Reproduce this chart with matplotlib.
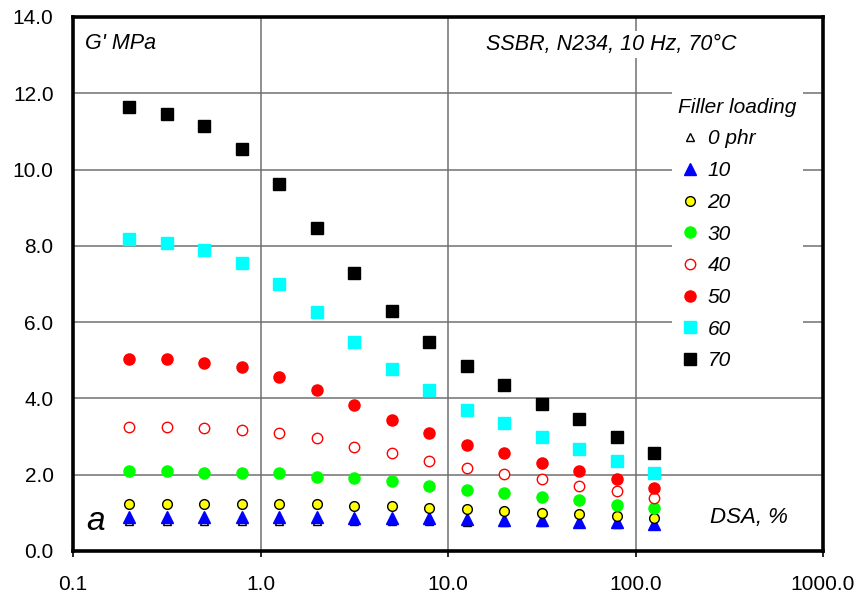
import matplotlib.pyplot as plt
from matplotlib.ticker import FixedLocator, FixedFormatter, NullLocator

plt.rcParams['font.family'] = ['Liberation Sans', 'DejaVu Sans']

# strain amplitude, %
dsa = [0.2, 0.317, 0.502, 0.796, 1.26, 2.0, 3.17, 5.02, 7.96, 12.6, 20.0, 31.7, 50.2, 79.6, 126.0]

# G' (MPa) for each filler loading
g_0 = [0.78, 0.78, 0.78, 0.78, 0.78, 0.78, 0.78, 0.78, 0.78, 0.77, 0.76, 0.75, 0.73, 0.71, 0.68]
g_10 = [0.88, 0.88, 0.88, 0.88, 0.88, 0.88, 0.87, 0.87, 0.86, 0.84, 0.82, 0.80, 0.77, 0.75, 0.72]
g_20 = [1.23, 1.23, 1.23, 1.23, 1.23, 1.23, 1.18, 1.18, 1.13, 1.10, 1.05, 1.00, 0.97, 0.92, 0.87]
g_30 = [2.10, 2.10, 2.04, 2.04, 2.04, 1.94, 1.91, 1.83, 1.70, 1.60, 1.52, 1.42, 1.34, 1.21, 1.13]
g_40 = [3.25, 3.25, 3.22, 3.17, 3.09, 2.96, 2.73, 2.57, 2.36, 2.18, 2.02, 1.89, 1.70, 1.57, 1.40]
g_50 = [5.03, 5.03, 4.93, 4.82, 4.56, 4.22, 3.83, 3.43, 3.09, 2.78, 2.57, 2.31, 2.10, 1.89, 1.65]
g_60 = [8.18, 8.08, 7.90, 7.55, 7.00, 6.27, 5.48, 4.77, 4.22, 3.70, 3.36, 2.99, 2.67, 2.36, 2.05]
g_70 = [11.64, 11.46, 11.14, 10.54, 9.62, 8.47, 7.29, 6.29, 5.48, 4.85, 4.35, 3.85, 3.46, 2.99, 2.57]

labels = ['0 phr', '10', '20', '30', '40', '50', '60', '70']
series = [g_0, g_10, g_20, g_30, g_40, g_50, g_60, g_70]

# marker, face, edge, size
styles = [
    ('^', 'white', 'black', 6),
    ('^', '#0000ff', '#0000ff', 8),
    ('o', '#ffff00', 'black', 7),
    ('o', '#00ff00', '#00ff00', 8),
    ('o', 'white', '#ff0000', 7.5),
    ('o', '#ff0000', '#ff0000', 8),
    ('s', '#00ffff', '#00ffff', 8),
    ('s', 'black', 'black', 8),
]

fig = plt.figure(figsize=(8.55, 5.98), dpi=100)
ax = fig.add_axes([0.0854, 0.0786, 0.8772, 0.893])

for vals, lab, (m, fc, ec, ms) in zip(series, labels, styles):
    ax.plot(dsa, vals, linestyle='none', marker=m, markersize=ms,
            markerfacecolor=fc, markeredgecolor=ec, markeredgewidth=1.0,
            label=lab, zorder=3)

ax.set_xscale('log')
ax.set_xlim(0.1, 1000)
ax.set_ylim(0, 14)

xt = [0.1, 1, 10, 100, 1000]
ax.xaxis.set_major_locator(FixedLocator(xt))
ax.xaxis.set_major_formatter(FixedFormatter(['0.1', '1.0', '10.0', '100.0', '1000.0']))
ax.xaxis.set_minor_locator(NullLocator())
yt = [0, 2, 4, 6, 8, 10, 12, 14]
ax.set_yticks(yt)
ax.set_yticklabels(['%.1f' % v for v in yt])

ax.tick_params(axis='x', direction='out', length=4, width=1.2, labelsize=15, pad=13)
ax.tick_params(axis='y', length=0, labelsize=15, pad=14)

for s in ax.spines.values():
    s.set_linewidth(2.6)

ax.grid(True, color='#707070', linewidth=1.1, zorder=0)
ax.set_axisbelow(True)

ax.text(0.016, 0.95, "G' MPa", transform=ax.transAxes, fontsize=15.5,
        style='italic', va='center', ha='left')
ax.text(0.885, 0.948, 'SSBR, N234, 10 Hz, 70°C', transform=ax.transAxes,
        fontsize=15.5, style='italic', va='center', ha='right',
        bbox=dict(facecolor='white', edgecolor='none', pad=2))
ax.text(0.018, 0.055, 'a', transform=ax.transAxes, fontsize=24,
        style='italic', va='center', ha='left')
ax.text(0.953, 0.062, 'DSA, %', transform=ax.transAxes, fontsize=16,
        style='italic', va='center', ha='right')

leg = ax.legend(loc='upper left', bbox_to_anchor=(0.785, 0.88),
                title='Filler loading', frameon=True, fancybox=False,
                framealpha=1, edgecolor='none', facecolor='white',
                handletextpad=0.3, handlelength=1.1, labelspacing=0.61,
                borderpad=0.3, alignment='left',
                prop={'style': 'italic', 'size': 15},
                title_fontproperties={'style': 'italic', 'size': 15})

fig.savefig('out.png', dpi=100)
